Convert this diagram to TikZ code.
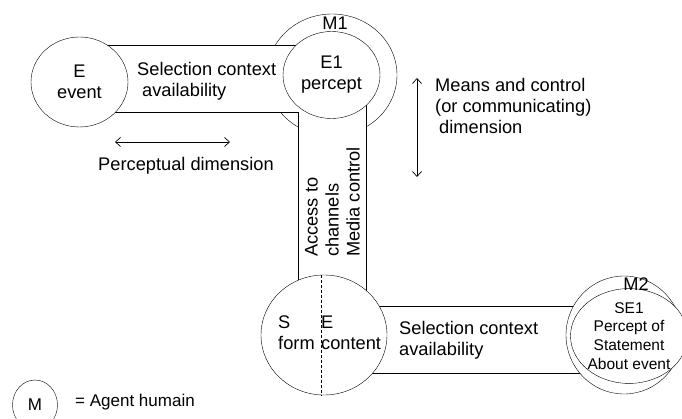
\documentclass[tikz,border=0pt]{standalone}
\usepackage{fontspec}
\setmainfont{Liberation Sans}
\usetikzlibrary{shapes.geometric,arrows.meta,calc}
\pgfdeclarelayer{back}
\pgfdeclarelayer{bands}
\pgfsetlayers{back,bands,main}
\begin{document}
\begin{tikzpicture}[x=1pt,y=-1pt, line width=0.8pt,
 txt/.style={font=\fontsize{18.25}{21}\selectfont, inner sep=0pt, align=left},
 blob/.style={ellipse, draw, fill=white, inner sep=0pt, align=center, font=\fontsize{18.25}{21}\selectfont},
 small/.style={font=\fontsize{15.5}{18.7}\selectfont},
 dimarrow/.style={{Straight Barb[length=5pt,width=9pt]}-{Straight Barb[length=5pt,width=9pt]}, line width=0.7pt}]
\clip (0,0) rectangle (682,419);
% outer agent circle M1 (behind the bands)
\begin{pgfonlayer}{back}
\node[blob, minimum width=130pt, minimum height=122pt] (M1) at (332,75) {};
\end{pgfonlayer}
% circles
\node[blob, minimum width=97pt, minimum height=90pt] (E) at (79.5,82) {E\\event};
\node[blob, minimum width=97pt, minimum height=87pt] (E1) at (331.5,75) {E1\\percept};
\node[blob, minimum width=126pt, minimum height=120pt] (SE) at (324,335) {};
\node[blob, minimum width=116pt, minimum height=118pt] (M2) at (624,335) {};
\node[blob, small, minimum width=98pt, minimum height=88pt] (SE1) at (629,336) {SE1\\Percept of\\Statement\\About event};
% bands
\coordinate (vl) at (298,0);
\coordinate (vr) at (366,0);
\begin{pgfonlayer}{bands}
\draw[fill=white] (E.center |- 0,45) -- (E1.center |- 0,45) -- (E1.center) -- (vr |- E1.center)
  -- (vr |- SE.center) -- (vl |- SE.center) -- (vl |- 0,112) -- (E.center |- 0,112) -- cycle;
\draw[fill=white] (SE.center |- 0,306) -- (M2.center |- 0,306) -- (M2.center |- 0,373) -- (SE.center |- 0,373) -- cycle;
\end{pgfonlayer}
% dashed split of the sign
\draw[dashed, dash pattern=on 3pt off 2pt, line width=0.6pt] ($(SE.north)+(-3,0)$) -- ($(SE.south)+(-3,0)$);
% texts
\node[txt, anchor=west] (sf) at (278,333) {S\\form};
\node[txt, anchor=west] (ec) at (321,333) {E\\content};
\node[txt, anchor=west] (sel1) at (137,81) {Selection context\\\hspace{5pt}availability};
\node[txt, anchor=west] (sel2) at (399,340) {Selection context\\availability};
\node[txt] (perc) at (186,166) {Perceptual dimension};
\node[txt, anchor=west] (means) at (435,106) {Means and control\\(or communicating)\\\hspace{4pt}dimension};
\node[txt, rotate=90, anchor=west] (acc) at (332.5,257) {Access to\\channels\\Media control};
\node[txt] (m1l) at (335,23) {M1};
\node[txt] (m2l) at (636,284) {M2};
% dimension arrows
\coordinate (pa) at (115,142);
\coordinate (pb) at (230,142);
\draw[dimarrow] (pa) -- (pb);
\coordinate (ma) at (417,78);
\coordinate (mb) at (417,177);
\draw[dimarrow] (ma) -- (mb);
% legend
\node[ellipse, draw, minimum width=45pt, minimum height=50pt, inner sep=0pt, font=\fontsize{17}{20}\selectfont] (leg) at (35,405) {M};
\node[txt, font=\fontsize{17}{20}\selectfont, anchor=west] (legt) at (75,402) {= Agent humain};
\end{tikzpicture}
\end{document}
